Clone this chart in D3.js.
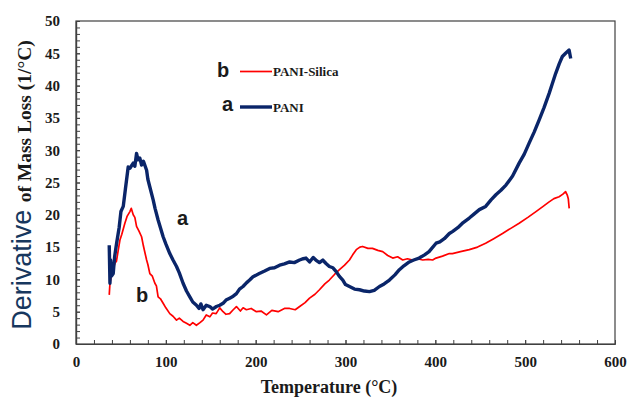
<!DOCTYPE html>
<html><head><meta charset="utf-8">
<script src="https://cdn.jsdelivr.net/npm/d3@7"></script>
<style>body{margin:0;background:#fff}svg{display:block}</style>
</head><body>
<script>
const tempA = [37,37.8,38.5,39.5,41.4,43,45.2,48,50,52.6,55,58.1,60,63.7,65.5,67.4,69,71,73,75,78.6,80,82.2,85.9,88,91.4,94,97,100,104.4,108,111.9,115,119.2,123,126.7,130,134.1,137,139,141.4,145,148.9,152,156.3,160,163.7,167,171.1,175,178.6,182,185.9,190,193.3,197,204,210,215.6,221,226.7,232,237.8,243,248.9,253,256,260,264,267,271,274.8,278,282,286,289.7,293,297,300,304.4,310,315.6,321,326.7,332,337.8,343,348.9,355,360,365,371,376,382,388,393,400.8,405,410,415.6,419,425,431,437.8,443,449,456,462,467.4,473,478.6,486,493.3,499,504.4,510,515.6,521,526.7,530,534,538,541.4,545,548.9,550.7];
const valA  = [15.3,9.4,13,10.5,10.9,13.5,15.6,18,20.5,21.3,24,27.4,27.2,28,27.5,29.5,28.5,28.8,27.7,28.3,26.9,25.5,24.3,22.3,21,19.2,18,16.6,15.5,14,13,12,11,9.4,8.2,7.3,6.5,6,5.5,6.2,5.3,6,5.8,5.4,5.8,6,6.3,6.8,7.1,7.4,7.8,8.5,8.9,9.5,9.9,10.4,10.9,11.3,11.7,11.8,12.2,12.4,12.7,12.6,13,13.2,13.3,12.7,13.4,13,12.6,13,12.5,12,11.8,11.2,10.5,9.9,9.2,8.9,8.5,8.4,8.2,8.1,8.3,8.9,9.3,9.9,10.7,11.5,12.1,12.7,13,13.3,13.8,14.3,15.6,15.8,16.3,17.1,17.4,18,18.8,19.5,20.1,20.8,21.3,22.3,23.1,23.8,24.6,26,28,29.4,31.1,32.8,34.7,36.6,38.8,40.2,41.9,43.4,44.5,45,45.5,44.2];
const tempB = [37,37.8,40,43.3,45,47,48.9,51,54.4,57,60,61.5,63.7,65.5,67.4,70,73,75,78.6,80,82.2,85,87.8,89.5,91.4,94,97,100,104.4,108,111.9,115,119.2,123,126.7,130,134,138,141.4,145,149,152,156,160,163.7,167,171,175,178.6,183,186,189.7,195,200.8,206,212,218,225,232,237.8,244,249,255,260,266,271,277,282,288,293.3,299,304.4,308,312,316,319,325,330,336,341.4,347,352.6,358,363.7,369,374.8,380,386,392,397,400.8,408,415.6,419,428,437.8,447,456,465,474.8,484,493.3,503,512,520,526.7,532,537.8,542,545,547,548,549];
const valB  = [7.6,9.4,11,12.5,12.8,14.5,16.1,17,18.7,19.8,20.5,21,20,19.6,18.2,17.5,16.6,15.2,13,12.3,10.9,10.5,9.4,9,7.3,7,6.3,5.6,4.7,4.3,3.7,4,3.5,3.2,2.9,3.3,2.9,3.3,3.7,4.5,4.2,4.8,4.7,5.6,5,4.6,4.7,5.3,5.8,5.1,5.6,5.3,5.5,5,5.1,4.5,5.2,5,5.5,5.5,5.3,5.8,6.4,7.1,7.7,8.4,9.3,9.9,10.8,11.5,12.2,13,13.8,14.6,15,15.1,14.8,14.8,14.5,14.3,13.7,13.3,13.5,13,13.2,13,13.2,13,13.1,13,13.3,13.6,14,14,14.3,14.6,15,15.6,16.3,17.1,17.9,18.7,19.6,20.5,21.3,22,22.5,22.8,23.2,23.6,23,22.5,21];
const xMajorTicks = [0,100,200,300,400,500,600];
const yMajorTicks = [0,5,10,15,20,25,30,35,40,45,50];

const W = 629, H = 398;
const svg = d3.select("body").append("svg").attr("width", W).attr("height", H);
const x = d3.scaleLinear().domain([0,600]).range([76,615]);
const y = d3.scaleLinear().domain([0,50]).range([344,21]);
const axisCol = "#404040";

// frame
svg.append("rect").attr("x",76).attr("y",21).attr("width",615-76).attr("height",344-21)
  .attr("fill","none").attr("stroke",axisCol).attr("stroke-width",1.2);

// minor ticks
const yMinor = svg.append("g").attr("transform","translate(76,0)")
  .call(d3.axisLeft(y).tickValues(d3.range(0,51,1)).tickSizeInner(-4).tickSizeOuter(0).tickFormat(""));
const xMinor = svg.append("g").attr("transform","translate(0,344)")
  .call(d3.axisBottom(x).tickValues(d3.range(0,601,20)).tickSizeInner(-4).tickSizeOuter(0).tickFormat(""));
// major with labels
const yAx = svg.append("g").attr("transform","translate(76,0)")
  .call(d3.axisLeft(y).tickValues(yMajorTicks).tickSizeInner(-4).tickSizeOuter(0).tickPadding(16));
const xAx = svg.append("g").attr("transform","translate(0,344)")
  .call(d3.axisBottom(x).tickValues(xMajorTicks).tickSizeInner(-4).tickSizeOuter(0).tickPadding(12));
[yMinor,xMinor,yAx,xAx].forEach(g=>{
  g.select(".domain").attr("stroke",axisCol).attr("stroke-width",1.2);
  g.selectAll(".tick line").attr("stroke",axisCol);
});
[yAx,xAx].forEach(g=>g.selectAll(".tick text")
  .attr("font-family","'Liberation Serif', serif").attr("font-weight","bold")
  .attr("font-size",15).attr("fill","#1a1a1a"));

// lines
const line = d3.line().x(d=>x(d[0])).y(d=>y(d[1]));
svg.append("path").datum(tempB.map((t,i)=>[t,valB[i]])).attr("d",line)
  .attr("fill","none").attr("stroke","#ff0000").attr("stroke-width",1.7).attr("stroke-linejoin","round");
svg.append("path").datum(tempA.map((t,i)=>[t,valA[i]])).attr("d",line)
  .attr("fill","none").attr("stroke","#0a2569").attr("stroke-width",3.4).attr("stroke-linejoin","round");

// axis titles
svg.append("text").attr("x",329).attr("y",393).attr("text-anchor","middle")
  .attr("font-family","'Liberation Serif', serif").attr("font-weight","bold").attr("font-size",18)
  .attr("fill","#1a1a1a").text("Temperature (°C)");
const yt = svg.append("text").attr("transform","translate(31,185) rotate(-90)").attr("text-anchor","middle");
yt.append("tspan").attr("font-family","'Liberation Sans', sans-serif").attr("font-size",27)
  .attr("fill","#17375e").text("Derivative ");
yt.append("tspan").attr("font-family","'Liberation Serif', serif").attr("font-weight","bold").attr("font-size",19.5)
  .attr("fill","#1a1a1a").text("of Mass Loss (1/°C)");

// legend
const lg = svg.append("g");
const legendItems = [{k:"b", label:"PANI-Silica", col:"#ff0000", w:1.7, ly:71.5, kx:217, ky:77},
                     {k:"a", label:"PANI", col:"#0a2569", w:3.4, ly:107, kx:222, ky:111}];
legendItems.forEach(d=>{
  lg.append("text").attr("x",d.kx).attr("y",d.ky).attr("font-family","'Liberation Sans', sans-serif")
    .attr("font-weight","bold").attr("font-size",20).attr("fill","#1a1a1a").text(d.k);
  lg.append("line").attr("x1",240).attr("x2",272).attr("y1",d.ly).attr("y2",d.ly)
    .attr("stroke",d.col).attr("stroke-width",d.w);
  lg.append("text").attr("x",273).attr("y",d.ly+4.5).attr("font-family","'Liberation Serif', serif")
    .attr("font-weight","bold").attr("font-size",13).attr("fill","#1a1a1a").text(d.label);
});
// curve labels
svg.append("text").attr("x",177).attr("y",225).attr("font-family","'Liberation Sans', sans-serif")
  .attr("font-weight","bold").attr("font-size",20).attr("fill","#1a1a1a").text("a");
svg.append("text").attr("x",136).attr("y",302).attr("font-family","'Liberation Sans', sans-serif")
  .attr("font-weight","bold").attr("font-size",20).attr("fill","#1a1a1a").text("b");
</script>
</body></html>
